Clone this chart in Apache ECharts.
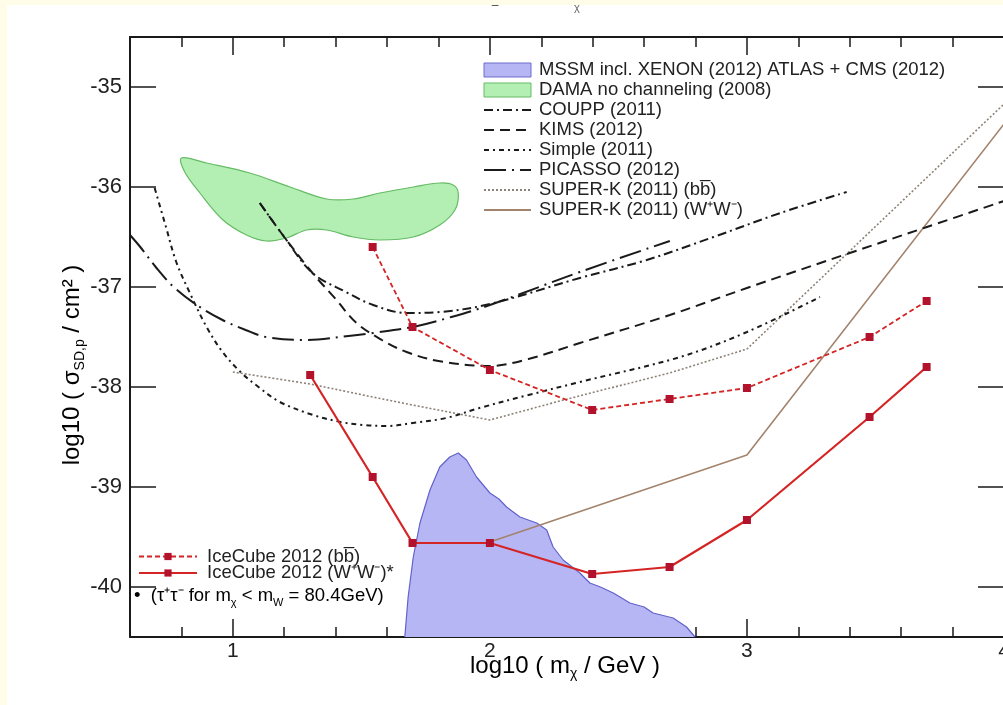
<!DOCTYPE html>
<html>
<head>
<meta charset="utf-8">
<title>Spin-dependent WIMP-proton cross section limits</title>
<script src="https://cdn.jsdelivr.net/npm/echarts@6/dist/echarts.min.js"></script>
<style>
  html, body { margin: 0; padding: 0; background: #fffde8; overflow: hidden; }
  #paper { position: absolute; left: 7px; top: 5px; width: 996px; height: 700px; background: #ffffff; }
  #chart { position: absolute; left: 0; top: 0; width: 1003px; height: 705px; }
</style>
</head>
<body>
<div id="paper"></div>
<div id="chart"></div>
<script>
// ---- axis ticks -------------------------------------------------------
const xMajorTicks = [1, 2, 3, 4];
const xMinorTicks = [0.8, 1.2, 1.4, 1.6, 1.8, 2.2, 2.4, 2.6, 2.8, 3.2, 3.4, 3.6, 3.8];
const yMajorTicks = [-40, -39, -38, -37, -36, -35];

// ---- MSSM scan region (x = log10 m, y = log10 sigma) ----------------------
const mssmX = [1.669, 1.682, 1.702, 1.728, 1.767, 1.805, 1.844, 1.877, 1.909, 1.948, 2.0, 2.035, 2.065, 2.117, 2.182, 2.221, 2.246, 2.285, 2.35, 2.389, 2.43, 2.48, 2.545, 2.60, 2.635, 2.713, 2.765, 2.798];
const mssmY = [-40.5, -40.10, -39.70, -39.36, -39.03, -38.80, -38.70, -38.66, -38.73, -38.90, -39.06, -39.12, -39.20, -39.30, -39.36, -39.43, -39.60, -39.73, -39.86, -39.96, -40.00, -40.06, -40.16, -40.20, -40.26, -40.31, -40.40, -40.5];

// ---- DAMA contour --------------------------------------------------------
const damaX = [0.800, 0.898, 1.066, 1.222, 1.365, 1.468, 1.572, 1.702, 1.805, 1.857, 1.877, 1.864, 1.805, 1.702, 1.572, 1.468, 1.365, 1.287, 1.209, 1.131, 1.053, 0.962, 0.872, 0.813];
const damaY = [-35.71, -35.76, -35.86, -36.00, -36.12, -36.12, -36.06, -36.00, -35.96, -35.98, -36.06, -36.23, -36.38, -36.50, -36.53, -36.50, -36.43, -36.43, -36.51, -36.54, -36.48, -36.33, -36.06, -35.85];

// ---- direct detection limits --------------------------------------------
const couppX = [1.105, 1.20, 1.31, 1.44, 1.546, 1.676, 1.805, 2.0, 2.35, 2.61, 2.87, 3.13, 3.388];
const couppY = [-36.16, -36.50, -36.86, -37.05, -37.18, -37.26, -37.25, -37.17, -36.91, -36.73, -36.50, -36.26, -36.05];

const kimsX = [1.105, 1.20, 1.31, 1.40, 1.481, 1.58, 1.676, 1.80, 2.0, 2.15, 2.35, 2.7, 3.0, 3.4, 3.7, 4.0];
const kimsY = [-36.16, -36.50, -36.86, -37.12, -37.36, -37.53, -37.65, -37.74, -37.79, -37.72, -37.56, -37.28, -37.01, -36.66, -36.40, -36.14];

const simpleX = [0.696, 0.74, 0.78, 0.833, 0.898, 0.96, 1.03, 1.10, 1.183, 1.312, 1.42, 1.507, 1.60, 1.70, 1.83, 1.96, 2.15, 2.35, 2.74, 3.0, 3.284];
const simpleY = [-36.01, -36.40, -36.75, -37.06, -37.40, -37.65, -37.85, -38.00, -38.15, -38.28, -38.35, -38.38, -38.39, -38.36, -38.31, -38.21, -38.08, -37.95, -37.70, -37.45, -37.10];

const picassoX = [0.6, 0.64, 0.70, 0.77, 0.86, 0.96, 1.05, 1.13, 1.29, 1.45, 1.545, 1.70, 1.85, 2.0, 2.35, 2.70];
const picassoY = [-36.48, -36.60, -36.80, -37.00, -37.18, -37.33, -37.43, -37.50, -37.53, -37.49, -37.46, -37.40, -37.30, -37.18, -36.85, -36.54];

// ---- Super-K ------------------------------------------------------------
const superKbbX = [1.0, 1.301, 1.544, 1.699, 2.0, 2.301, 2.699, 3.0, 4.0];
const superKbbY = [-37.85, -37.97, -38.10, -38.18, -38.33, -38.12, -37.86, -37.62, -35.17];

const superKwwX = [2.0, 3.0, 4.0];
const superKwwY = [-39.55, -38.68, -35.37];

// ---- IceCube 2012 -------------------------------------------------------
const iceBbX = [1.544, 1.699, 2.0, 2.398, 2.699, 3.0, 3.477, 3.699];
const iceBbY = [-36.60, -37.40, -37.83, -38.23, -38.12, -38.01, -37.50, -37.14];

const iceWwX = [1.301, 1.544, 1.699, 2.0, 2.398, 2.699, 3.0, 3.477, 3.699];
const iceWwY = [-37.88, -38.90, -39.56, -39.56, -39.87, -39.80, -39.33, -38.30, -37.80];

// ---- names ----------------------------------------------------------------
const N_MSSM = 'MSSM incl. XENON (2012) ATLAS + CMS (2012)';
const N_DAMA = 'DAMA no channeling (2008)';
const N_COUPP = 'COUPP (2011)';
const N_KIMS = 'KIMS (2012)';
const N_SIMPLE = 'Simple (2011)';
const N_PICASSO = 'PICASSO (2012)';
const N_SKBB = 'SUPER-K (2011) (b\u0062\u0305)';
const N_SKWW = 'SUPER-K (2011) (W\u207AW\u207B)';
const N_ICEBB = 'IceCube 2012 (b\u0062\u0305)';
const N_ICEWW = 'IceCube 2012 (W\u207AW\u207B)*';

const FONT = '"Liberation Sans", Arial, Helvetica, sans-serif';
const INK = '#1a1a1a';
const RED = '#d42424';
const RED_DARK = '#b3122c';

const pairs = (xs, ys) => xs.map((x, i) => [x, ys[i]]);

function blackCurve(name, xs, ys, dash) {
  return {
    name, type: 'line', data: pairs(xs, ys), symbol: 'none', smooth: 0.35,
    lineStyle: { color: INK, width: 2, type: dash }, itemStyle: { color: INK },
    z: 4
  };
}

function tickAxis(position, values, len, withLabel) {
  return {
    type: 'value', min: 0.6, max: 4, position,
    axisLine: { show: withLabel, onZero: false, lineStyle: { color: INK, width: 2 } },
    axisTick: { show: true, inside: true, length: len, customValues: values, lineStyle: { color: INK, width: 1.5 } },
    axisLabel: withLabel && position === 'bottom'
      ? { show: true, customValues: values, fontFamily: FONT, fontSize: 21, color: '#222', margin: 4 }
      : { show: false },
    splitLine: { show: false }
  };
}

function yAxisDef(position, withLabel) {
  return {
    type: 'value', min: -40.5, max: -34.5, position,
    axisLine: { show: true, onZero: false, lineStyle: { color: INK, width: 2 } },
    axisTick: { show: true, inside: true, length: 26, customValues: yMajorTicks, lineStyle: { color: INK, width: 1.5 } },
    axisLabel: withLabel
      ? { show: true, customValues: yMajorTicks, fontFamily: FONT, fontSize: 22, color: '#222', margin: 8 }
      : { show: false },
    splitLine: { show: false }
  };
}

const richText = {
  base: { fontFamily: FONT, fontSize: 24, color: '#222', lineHeight: 30 },
  sub: { fontFamily: FONT, fontSize: 14, color: '#222', lineHeight: 30, verticalAlign: 'bottom' }
};
const richSmall = {
  base: { fontFamily: FONT, fontSize: 18.5, color: '#222', lineHeight: 24 },
  sub: { fontFamily: FONT, fontSize: 11, color: '#222', lineHeight: 24, verticalAlign: 'bottom' }
};

// line-only legend entries: hide the marker drawn on top of the line sample
const lineOnly = name => ({ name, itemStyle: { opacity: 0, borderWidth: 0 } });

const chart = echarts.init(document.getElementById('chart'), null, { renderer: 'canvas' });

chart.setOption({
  animation: false,
  backgroundColor: 'transparent',
  grid: { left: 130, top: 37, width: 874, height: 600, containLabel: false, outerBoundsMode: 'none' },
  xAxis: [
    tickAxis('bottom', xMajorTicks, 18, true),
    tickAxis('bottom', xMinorTicks, 10, false),
    tickAxis('top', xMajorTicks, 18, true),
    tickAxis('top', xMinorTicks, 10, false)
  ],
  yAxis: [yAxisDef('left', true), yAxisDef('right', false)],
  legend: [
    {
      orient: 'vertical', left: 478, top: 55, itemWidth: 47, itemHeight: 14, itemGap: 0,
      selectedMode: false,
      textStyle: { fontFamily: FONT, fontSize: 18.5, color: '#222', lineHeight: 20, padding: [0, 0, 0, 3] },
      data: [
        { name: N_MSSM, icon: 'rect', itemStyle: { color: '#b6b6f4', borderColor: '#6d6dd0', borderWidth: 1 } },
        { name: N_DAMA, icon: 'rect', itemStyle: { color: '#b3efb3', borderColor: '#66bb66', borderWidth: 1 } },
        lineOnly(N_COUPP), lineOnly(N_KIMS), lineOnly(N_SIMPLE), lineOnly(N_PICASSO),
        lineOnly(N_SKBB), lineOnly(N_SKWW)
      ]
    },
    {
      orient: 'vertical', left: 133, top: 542, itemWidth: 58, itemHeight: 9, itemGap: -2.5,
      selectedMode: false,
      textStyle: { fontFamily: FONT, fontSize: 18.5, color: '#222', lineHeight: 16.5, padding: [0, 0, 0, 5] },
      data: [N_ICEBB, N_ICEWW]
    }
  ],
  graphic: [
    {
      type: 'text', x: 565, y: 666, silent: true,
      style: { text: '{base|log10 ( m}{sub|χ}{base| / GeV )}', rich: richText, align: 'center', verticalAlign: 'middle' }
    },
    {
      type: 'text', x: 72, y: 365, rotation: Math.PI / 2, silent: true,
      style: { text: '{base|log10 ( σ}{sub|SD,p}{base| / cm\u00B2 )}', rich: richText, align: 'center', verticalAlign: 'middle' }
    },
    {
      type: 'text', x: 134, y: 596, silent: true,
      style: { text: '{base|\u2022  (τ\u207Aτ\u207B for m}{sub|χ}{base| < m}{sub|W}{base| = 80.4GeV)}', rich: richSmall, align: 'left', verticalAlign: 'middle' }
    },
    {
      type: 'text', x: 577, y: 8, silent: true,
      style: { text: 'χ', fontFamily: FONT, fontSize: 11, fill: '#666', align: 'center', verticalAlign: 'middle' }
    },
    {
      type: 'text', x: 495, y: 6, silent: true,
      style: { text: '–', fontFamily: FONT, fontSize: 12, fill: '#444', align: 'center', verticalAlign: 'middle' }
    }
  ],
  series: [
    {
      name: N_MSSM, type: 'line', data: pairs(mssmX, mssmY), symbol: 'none',
      lineStyle: { color: '#6262cc', width: 1.2 },
      itemStyle: { color: '#b6b6f4' },
      areaStyle: { color: '#b6b6f4', opacity: 1, origin: 'start' },
      z: 1
    },
    {
      name: N_DAMA, type: 'custom', data: [[1.3, -36.2]], z: 2,
      itemStyle: { color: '#b3efb3' },
      renderItem: function (params, api) {
        const pts = damaX.map((x, i) => api.coord([x, damaY[i]]));
        return {
          type: 'polygon',
          shape: { points: pts, smooth: 0.35 },
          style: { fill: '#b3efb3', stroke: '#66bb66', lineWidth: 1.2 }
        };
      }
    },
    blackCurve(N_COUPP, couppX, couppY, [9, 4, 2, 4]),
    blackCurve(N_KIMS, kimsX, kimsY, [10, 6]),
    blackCurve(N_SIMPLE, simpleX, simpleY, [5, 4, 2, 4]),
    blackCurve(N_PICASSO, picassoX, picassoY, [22, 6, 2, 6]),
    {
      name: N_SKBB, type: 'line', data: pairs(superKbbX, superKbbY), symbol: 'none',
      lineStyle: { color: '#8c8276', width: 1.6, type: [2, 2] }, itemStyle: { color: '#8c8276' }, z: 3
    },
    {
      name: N_SKWW, type: 'line', data: pairs(superKwwX, superKwwY), symbol: 'none',
      lineStyle: { color: '#a3836c', width: 1.6 }, itemStyle: { color: '#a3836c' }, z: 3
    },
    {
      name: N_ICEBB, type: 'line', data: pairs(iceBbX, iceBbY),
      symbol: 'rect', symbolSize: 8, showSymbol: true,
      lineStyle: { color: RED, width: 1.8, type: [5, 3] }, itemStyle: { color: RED_DARK }, z: 6
    },
    {
      name: N_ICEWW, type: 'line', data: pairs(iceWwX, iceWwY),
      symbol: 'rect', symbolSize: 8, showSymbol: true,
      lineStyle: { color: RED, width: 2.2 }, itemStyle: { color: RED_DARK }, z: 6
    }
  ]
});
</script>
</body>
</html>
